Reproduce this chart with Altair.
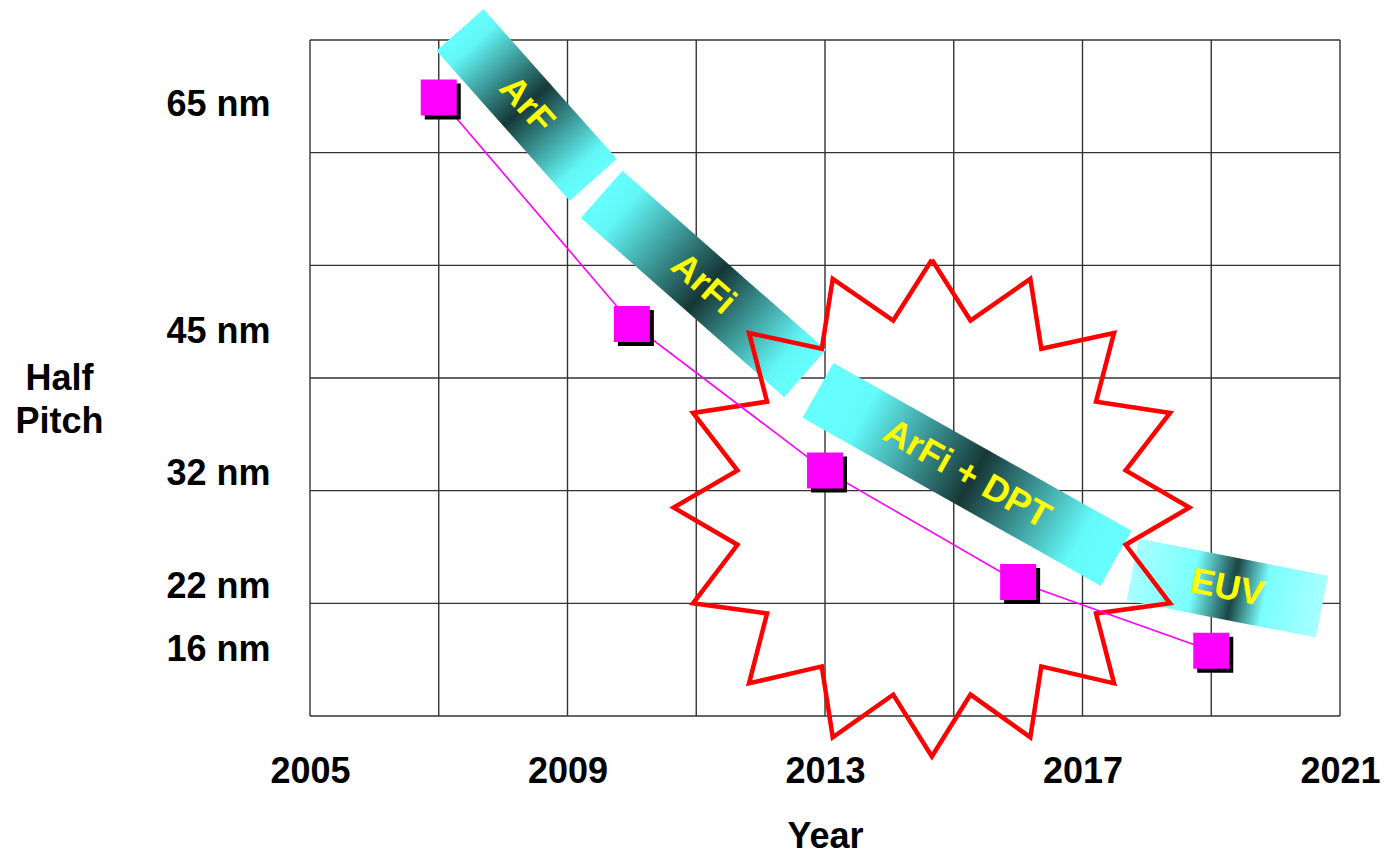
import math
import altair as alt
import pandas as pd

# ---------------- data ----------------
node_year = [2007, 2010, 2013, 2016, 2019]
node_level = [5.49, 3.48, 2.18, 1.19, 0.58]          # position on the 0..6 grid

pitch_labels = ["65 nm", "45 nm", "32 nm", "22 nm", "16 nm"]
pitch_label_level = [5.43, 3.415, 2.148, 1.153, 0.592]

year_ticks = [2005, 2009, 2013, 2017, 2021]
grid_years = [2005, 2007, 2009, 2011, 2013, 2015, 2017, 2019, 2021]
grid_levels = [0, 1, 2, 3, 4, 5, 6]

band_names = ["ArF", "ArFi", "ArFi + DPT", "EUV"]
band_year_start = [2007.33, 2009.53, 2012.89, 2017.78]
band_level_start = [6.09, 4.63, 2.89, 1.30]
band_year_end = [2009.40, 2012.69, 2017.52, 2020.72]
band_level_end = [4.76, 3.04, 1.40, 0.97]

star_year = [2014.66, 2015.26, 2016.19, 2016.36, 2017.49, 2017.21, 2018.36, 2017.67,
             2018.66, 2017.67, 2018.36, 2017.21, 2017.49, 2016.36, 2016.19, 2015.26,
             2014.66, 2014.06, 2013.12, 2012.95, 2011.82, 2012.10, 2010.95, 2011.64,
             2010.65, 2011.64, 2010.95, 2012.10, 2011.82, 2012.95, 2013.12, 2014.06,
             2014.66]
star_level = [4.05, 3.51, 3.88, 3.26, 3.40, 2.79, 2.69, 2.18,
              1.85, 1.52, 1.00, 0.91, 0.29, 0.44, -0.19, 0.19,
              -0.36, 0.19, -0.19, 0.44, 0.29, 0.91, 1.00, 1.52,
              1.85, 2.18, 2.69, 2.79, 3.40, 3.26, 3.88, 3.51,
              4.05]

# ---------------- styles ----------------
FONT = "Liberation Sans"
W, H = 1030, 676
X_DOM = [2005, 2021]
Y_DOM = [0, 6]
PPX = W / (X_DOM[1] - X_DOM[0])
PPY = H / (Y_DOM[1] - Y_DOM[0])

band_stops = {
    "ArF": [(0, "#66FFFF"), (0.1, "#62F6F6"), (0.5, "#163838"), (0.9, "#62F6F6"), (1, "#66FFFF")],
    "ArFi": [(0, "#66FFFF"), (0.1, "#62F6F6"), (0.52, "#163636"), (0.9, "#62F6F6"), (1, "#66FFFF")],
    "ArFi + DPT": [(0, "#66FFFF"), (0.15, "#64FAFA"), (0.52, "#173737"), (0.88, "#64FAFA"), (1, "#66FFFF")],
    "EUV": [(0, "#A8FFFF"), (0.32, "#7AFFFF"), (0.53, "#1A4545"), (0.7, "#7AFFFF"), (1, "#A8FFFF")],
}

xs = alt.Scale(domain=X_DOM, nice=False, zero=False)
ys = alt.Scale(domain=Y_DOM, nice=False, zero=False)

label_expr = " : ".join(
    f"abs(datum.value - {v}) < 0.001 ? '{t}'" for v, t in zip(pitch_label_level, pitch_labels)
) + " : ''"

x_axis = alt.Axis(
    values=year_ticks, format="d", grid=False, ticks=False, tickSize=0, domain=False,
    labelFont=FONT, labelFontSize=36, labelFontWeight="bold", labelColor="black",
    labelPadding=66, labelBaseline="alphabetic", labelFlush=False, labelOverlap=False,
    title="Year", titleFont=FONT, titleFontSize=36, titleFontWeight="bold", titleColor="black",
    titleBaseline="alphabetic", titleY=131, titleX=W / 2, titleAlign="center",
)
y_axis = alt.Axis(
    values=pitch_label_level, labelExpr=label_expr, grid=False, ticks=False, tickSize=0,
    domain=False, labelFont=FONT, labelFontSize=36, labelFontWeight="bold", labelColor="black",
    labelPadding=40, labelAlign="right", labelBaseline="middle", labelFlush=False,
    labelOverlap=False,
    title=["Half", "Pitch"], titleFont=FONT, titleFontSize=36, titleFontWeight="bold",
    titleColor="black", titleAngle=0, titleAlign="center", titleBaseline="alphabetic",
    titleX=-251, titleY=349, titleLineHeight=43,
)


def X(f):
    return alt.X(f"{f}:Q", scale=xs, axis=x_axis)


def Y(f):
    return alt.Y(f"{f}:Q", scale=ys, axis=y_axis)


layers = []

# grid
vgrid = pd.DataFrame({"year": grid_years, "lo": Y_DOM[0], "hi": Y_DOM[1]})
hgrid = pd.DataFrame({"level": grid_levels, "lo": X_DOM[0], "hi": X_DOM[1]})
layers.append(alt.Chart(vgrid).mark_rule(color="#333333", strokeWidth=1.4).encode(
    x=X("year"), y=Y("lo"), y2="hi:Q"))
layers.append(alt.Chart(hgrid).mark_rule(color="#333333", strokeWidth=1.4).encode(
    y=Y("level"), x=X("lo"), x2="hi:Q"))

# technology bands
for name, y0, l0, y1, l1 in zip(band_names, band_year_start, band_level_start,
                                 band_year_end, band_level_end):
    wpx = abs(y1 - y0) * PPX
    hpx = abs(l1 - l0) * PPY
    a = (wpx ** 2 + hpx ** 2) / (wpx ** 4 + hpx ** 4)
    grad = {
        "gradient": "linear",
        "x1": 0, "y1": 0, "x2": wpx ** 2 * a, "y2": hpx ** 2 * a,
        "stops": [{"offset": o, "color": c} for o, c in band_stops[name]],
    }
    seg = pd.DataFrame({"year": [y0, y1], "level": [l0, l1], "ord": [0, 1]})
    layers.append(alt.Chart(seg).mark_line(stroke=grad, strokeWidth=63, strokeCap="butt").encode(
        x=X("year"), y=Y("level"), order="ord:Q"))
    ang = math.degrees(math.atan2(hpx, wpx))
    lab = pd.DataFrame({"year": [(y0 + y1) / 2], "level": [(l0 + l1) / 2], "name": [name]})
    layers.append(alt.Chart(lab).mark_text(
        angle=ang, color="#FFFF00", font=FONT, fontSize=36, fontWeight="bold",
        align="center", baseline="middle").encode(x=X("year"), y=Y("level"), text="name:N"))

# starburst
star = pd.DataFrame({"year": star_year, "level": star_level, "ord": list(range(len(star_year)))})
layers.append(alt.Chart(star).mark_line(color="#FF0000", strokeWidth=4.5, strokeJoin="miter").encode(
    x=X("year"), y=Y("level"), order="ord:Q"))

# roadmap line and nodes
nodes = pd.DataFrame({"year": node_year, "level": node_level})
layers.append(alt.Chart(nodes).mark_line(color="#FF00FF", strokeWidth=1.6).encode(
    x=X("year"), y=Y("level")))
layers.append(alt.Chart(nodes).mark_square(size=1296, color="black", opacity=1,
                                           xOffset=4, yOffset=4).encode(x=X("year"), y=Y("level")))
layers.append(alt.Chart(nodes).mark_square(size=1296, color="#FF00FF", opacity=1).encode(
    x=X("year"), y=Y("level")))

chart = alt.layer(*layers).properties(
    width=W, height=H,
    autosize=alt.AutoSizeParams(type="none"),
    padding={"left": 310, "top": 40, "right": 45, "bottom": 140},
    background="white",
).configure_view(stroke=None)

chart.save("out.html", embed_options={"renderer": "svg", "actions": False})
